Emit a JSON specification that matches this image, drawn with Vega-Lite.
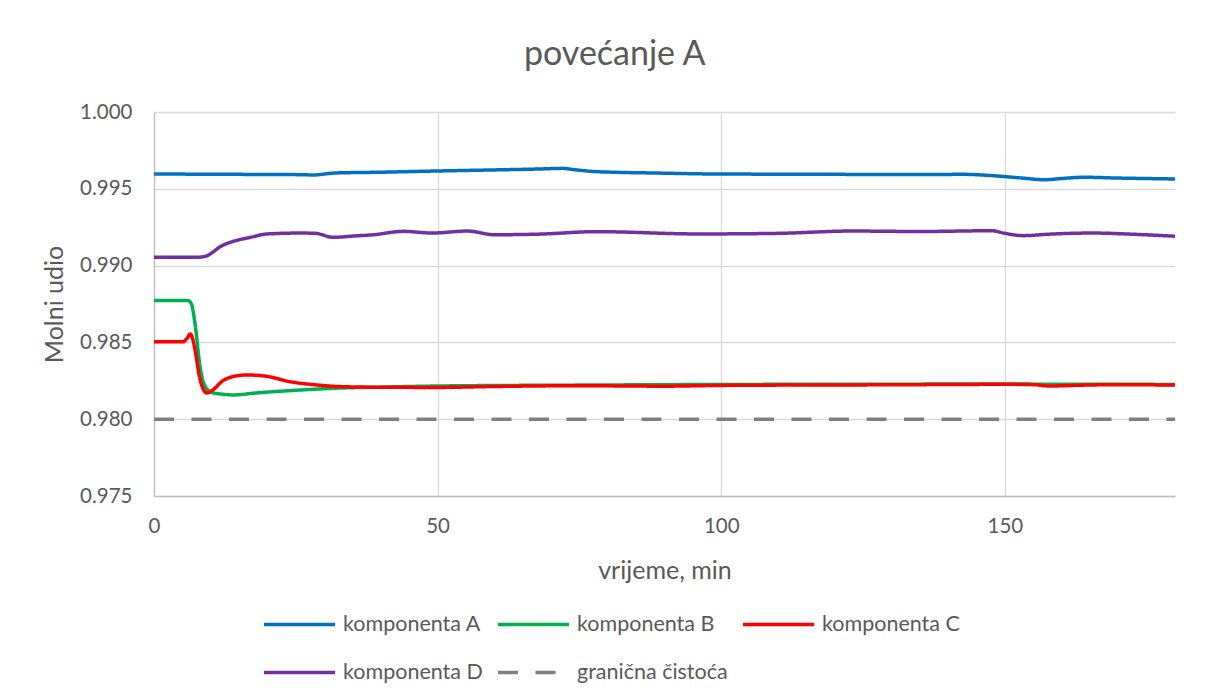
{
  "$schema": "https://vega.github.io/schema/vega-lite/v6.json",
  "width": 1021,
  "height": 384,
  "padding": {"left": 42, "top": 38, "right": 33, "bottom": 5},
  "background": "white",
  "title": {"text": "povećanje A", "fontSize": 34, "font": "Lato", "fontWeight": "normal", "color": "#595959", "frame": "bounds", "anchor": "middle", "offset": 30, "dx": 6},
  "datasets": {
    "series": [
      {"t": 0, "v": 0.99596, "s": "komponenta A"},
      {"t": 10, "v": 0.99595, "s": "komponenta A"},
      {"t": 20, "v": 0.99593, "s": "komponenta A"},
      {"t": 26, "v": 0.99592, "s": "komponenta A"},
      {"t": 28, "v": 0.9959, "s": "komponenta A"},
      {"t": 32, "v": 0.99603, "s": "komponenta A"},
      {"t": 40, "v": 0.99608, "s": "komponenta A"},
      {"t": 50, "v": 0.99616, "s": "komponenta A"},
      {"t": 60, "v": 0.99623, "s": "komponenta A"},
      {"t": 68, "v": 0.99629, "s": "komponenta A"},
      {"t": 72, "v": 0.99633, "s": "komponenta A"},
      {"t": 74, "v": 0.99625, "s": "komponenta A"},
      {"t": 77, "v": 0.99614, "s": "komponenta A"},
      {"t": 82, "v": 0.99607, "s": "komponenta A"},
      {"t": 88, "v": 0.99603, "s": "komponenta A"},
      {"t": 100, "v": 0.99596, "s": "komponenta A"},
      {"t": 115, "v": 0.99595, "s": "komponenta A"},
      {"t": 130, "v": 0.99593, "s": "komponenta A"},
      {"t": 143, "v": 0.99594, "s": "komponenta A"},
      {"t": 148, "v": 0.99585, "s": "komponenta A"},
      {"t": 153, "v": 0.9957, "s": "komponenta A"},
      {"t": 157, "v": 0.99559, "s": "komponenta A"},
      {"t": 160, "v": 0.99567, "s": "komponenta A"},
      {"t": 164, "v": 0.99575, "s": "komponenta A"},
      {"t": 170, "v": 0.9957, "s": "komponenta A"},
      {"t": 180, "v": 0.99564, "s": "komponenta A"},

      {"t": 0, "v": 0.98772, "s": "komponenta B"},
      {"t": 6, "v": 0.98772, "s": "komponenta B"},
      {"t": 6.6, "v": 0.9875, "s": "komponenta B"},
      {"t": 7.2, "v": 0.98631, "s": "komponenta B"},
      {"t": 8.1, "v": 0.98348, "s": "komponenta B"},
      {"t": 9.3, "v": 0.98197, "s": "komponenta B"},
      {"t": 10.5, "v": 0.98171, "s": "komponenta B"},
      {"t": 12, "v": 0.98163, "s": "komponenta B"},
      {"t": 14, "v": 0.98158, "s": "komponenta B"},
      {"t": 18, "v": 0.98171, "s": "komponenta B"},
      {"t": 24, "v": 0.98186, "s": "komponenta B"},
      {"t": 33, "v": 0.98203, "s": "komponenta B"},
      {"t": 40, "v": 0.98209, "s": "komponenta B"},
      {"t": 50, "v": 0.98216, "s": "komponenta B"},
      {"t": 75, "v": 0.98222, "s": "komponenta B"},
      {"t": 100, "v": 0.98226, "s": "komponenta B"},
      {"t": 130, "v": 0.98228, "s": "komponenta B"},
      {"t": 150, "v": 0.98229, "s": "komponenta B"},
      {"t": 157, "v": 0.98228, "s": "komponenta B"},
      {"t": 165, "v": 0.98228, "s": "komponenta B"},
      {"t": 180, "v": 0.98226, "s": "komponenta B"},

      {"t": 0, "v": 0.98505, "s": "komponenta C"},
      {"t": 5.2, "v": 0.98505, "s": "komponenta C"},
      {"t": 5.8, "v": 0.98525, "s": "komponenta C"},
      {"t": 6.4, "v": 0.98555, "s": "komponenta C"},
      {"t": 6.8, "v": 0.98525, "s": "komponenta C"},
      {"t": 7.2, "v": 0.98457, "s": "komponenta C"},
      {"t": 8.1, "v": 0.98262, "s": "komponenta C"},
      {"t": 9.3, "v": 0.98171, "s": "komponenta C"},
      {"t": 10.2, "v": 0.98186, "s": "komponenta C"},
      {"t": 12.2, "v": 0.98252, "s": "komponenta C"},
      {"t": 14, "v": 0.98278, "s": "komponenta C"},
      {"t": 16.4, "v": 0.98288, "s": "komponenta C"},
      {"t": 19.9, "v": 0.98279, "s": "komponenta C"},
      {"t": 24, "v": 0.98244, "s": "komponenta C"},
      {"t": 28.7, "v": 0.98223, "s": "komponenta C"},
      {"t": 33, "v": 0.98212, "s": "komponenta C"},
      {"t": 40, "v": 0.98208, "s": "komponenta C"},
      {"t": 50, "v": 0.98207, "s": "komponenta C"},
      {"t": 60, "v": 0.98213, "s": "komponenta C"},
      {"t": 75, "v": 0.98218, "s": "komponenta C"},
      {"t": 90, "v": 0.98215, "s": "komponenta C"},
      {"t": 100, "v": 0.9822, "s": "komponenta C"},
      {"t": 130, "v": 0.98224, "s": "komponenta C"},
      {"t": 150, "v": 0.98227, "s": "komponenta C"},
      {"t": 155, "v": 0.98225, "s": "komponenta C"},
      {"t": 158, "v": 0.98216, "s": "komponenta C"},
      {"t": 162, "v": 0.9822, "s": "komponenta C"},
      {"t": 170, "v": 0.98225, "s": "komponenta C"},
      {"t": 180, "v": 0.98222, "s": "komponenta C"},

      {"t": 0, "v": 0.99054, "s": "komponenta D"},
      {"t": 7.5, "v": 0.99054, "s": "komponenta D"},
      {"t": 9, "v": 0.9906, "s": "komponenta D"},
      {"t": 12, "v": 0.9913, "s": "komponenta D"},
      {"t": 15, "v": 0.99168, "s": "komponenta D"},
      {"t": 17, "v": 0.99184, "s": "komponenta D"},
      {"t": 20, "v": 0.99206, "s": "komponenta D"},
      {"t": 26, "v": 0.99212, "s": "komponenta D"},
      {"t": 28.5, "v": 0.9921, "s": "komponenta D"},
      {"t": 31.6, "v": 0.99184, "s": "komponenta D"},
      {"t": 35, "v": 0.99192, "s": "komponenta D"},
      {"t": 38.7, "v": 0.99201, "s": "komponenta D"},
      {"t": 44, "v": 0.99223, "s": "komponenta D"},
      {"t": 49, "v": 0.99212, "s": "komponenta D"},
      {"t": 55.3, "v": 0.99225, "s": "komponenta D"},
      {"t": 60, "v": 0.99201, "s": "komponenta D"},
      {"t": 68, "v": 0.99205, "s": "komponenta D"},
      {"t": 78, "v": 0.99221, "s": "komponenta D"},
      {"t": 96, "v": 0.99206, "s": "komponenta D"},
      {"t": 110, "v": 0.9921, "s": "komponenta D"},
      {"t": 123, "v": 0.99225, "s": "komponenta D"},
      {"t": 135, "v": 0.99222, "s": "komponenta D"},
      {"t": 147.7, "v": 0.99227, "s": "komponenta D"},
      {"t": 150, "v": 0.9921, "s": "komponenta D"},
      {"t": 153.2, "v": 0.99195, "s": "komponenta D"},
      {"t": 158, "v": 0.99205, "s": "komponenta D"},
      {"t": 165.5, "v": 0.99212, "s": "komponenta D"},
      {"t": 172, "v": 0.99205, "s": "komponenta D"},
      {"t": 180, "v": 0.99191, "s": "komponenta D"},

      {"t": 0, "v": 0.98, "s": "granična čistoća"},
      {"t": 180, "v": 0.98, "s": "granična čistoća"}
    ]
  },
  "data": {"name": "series"},
  "mark": {"type": "line", "interpolate": "monotone", "clip": true},
  "encoding": {
    "x": {
      "field": "t", "type": "quantitative",
      "scale": {"domain": [0, 180], "nice": false},
      "axis": {"values": [0, 50, 100, 150], "title": "vrijeme, min", "titlePadding": 22, "labelPadding": 20, "labelFlush": false}
    },
    "y": {
      "field": "v", "type": "quantitative",
      "scale": {"domain": [0.975, 1.0], "nice": false, "zero": false},
      "axis": {"values": [0.975, 0.98, 0.985, 0.99, 0.995, 1.0], "format": ".3f", "title": "Molni udio", "titlePadding": 12, "labelPadding": 22}
    },
    "color": {
      "field": "s", "type": "nominal",
      "scale": {
        "domain": ["komponenta A", "komponenta B", "komponenta C", "komponenta D", "granična čistoća"],
        "range": ["#0070C0", "#00B050", "#FF0000", "#7030A0", "#808080"]
      },
      "legend": {"title": null}
    },
    "strokeDash": {
      "field": "s", "type": "nominal",
      "scale": {
        "domain": ["komponenta A", "komponenta B", "komponenta C", "komponenta D", "granična čistoća"],
        "range": [[1, 0], [1, 0], [1, 0], [1, 0], [20, 17.5]]
      },
      "legend": {"title": null}
    },
    "strokeWidth": {
      "field": "s", "type": "nominal",
      "scale": {
        "domain": ["komponenta A", "komponenta B", "komponenta C", "komponenta D", "granična čistoća"],
        "range": [3.5, 3.5, 3.5, 3.5, 4.5]
      },
      "legend": null
    }
  },
  "config": {
    "font": "Lato",
    "view": {"stroke": null},
    "axis": {
      "labelFont": "Lato", "labelFontSize": 20.5, "labelColor": "#595959",
      "titleFont": "Lato", "titleFontSize": 25, "titleColor": "#595959", "titleFontWeight": "normal",
      "gridColor": "#D9D9D9", "gridWidth": 1.3, "domainColor": "#BFBFBF", "domainWidth": 1.3, "ticks": false
    },
    "legend": {
      "orient": "none", "legendX": 108, "legendY": 475, "direction": "horizontal", "columns": 3,
      "labelFont": "Lato", "labelFontSize": 21.5, "labelColor": "#595959",
      "symbolType": "stroke", "symbolSize": 5041, "symbolStrokeWidth": 4,
      "gridAlign": "each", "columnPadding": 8, "rowPadding": -31, "labelOffset": 6,
      "labelLimit": 300
    }
  }
}
